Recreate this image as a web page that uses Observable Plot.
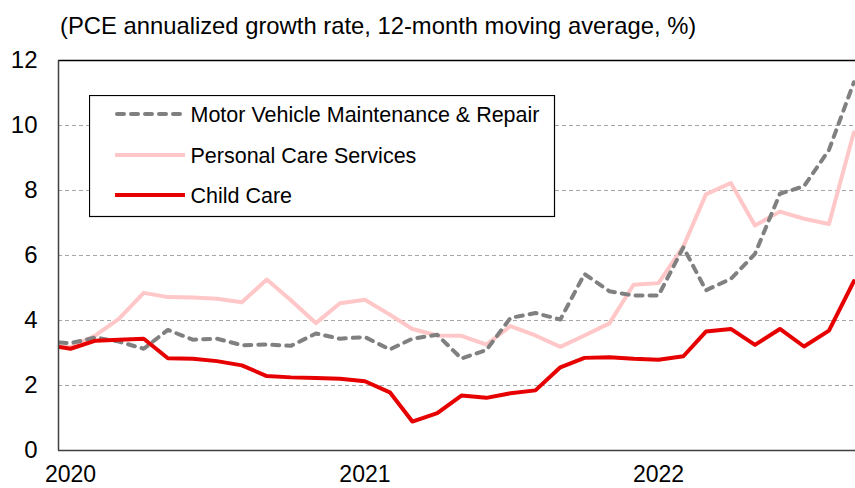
<!DOCTYPE html>
<html><head><meta charset="utf-8">
<script src="https://cdn.jsdelivr.net/npm/d3@7"></script>
<script src="https://cdn.jsdelivr.net/npm/@observablehq/plot@0.6"></script>
<style>
body{margin:0;background:#fff;font-family:"Liberation Sans",Arial,sans-serif;}
#wrap{position:relative;width:855px;height:488px;overflow:hidden;background:#fff;}
#title{position:absolute;left:60px;top:14px;font-size:23.8px;line-height:1;color:#000;white-space:nowrap;}
#chart{position:absolute;left:0;top:40px;}
#legend{position:absolute;left:89px;top:95px;}
</style></head><body>
<div id="wrap">
<div id="title">(PCE annualized growth rate, 12-month moving average, %)</div>
<div id="chart"></div>
<div id="legend"></div>
</div>
<script>
const months = ["2019-12",
 "2020-01","2020-02","2020-03","2020-04","2020-05","2020-06","2020-07","2020-08","2020-09","2020-10","2020-11","2020-12",
 "2021-01","2021-02","2021-03","2021-04","2021-05","2021-06","2021-07","2021-08","2021-09","2021-10","2021-11","2021-12",
 "2022-01","2022-02","2022-03","2022-04","2022-05","2022-06","2022-07","2022-08","2022-09"];
const motorVehicle = [3.36,
 3.30,3.48,3.35,3.13,3.71,3.41,3.44,3.24,3.26,3.22,3.60,3.44,
 3.49,3.11,3.44,3.56,2.83,3.09,4.08,4.23,4.03,5.43,4.90,4.77,
 4.77,6.25,4.93,5.28,6.05,7.90,8.13,9.25,11.33];
const personalCare = [3.22,
 3.18,3.54,4.05,4.85,4.72,4.71,4.67,4.56,5.26,4.62,3.92,4.53,
 4.64,4.18,3.74,3.54,3.53,3.26,3.83,3.54,3.19,3.54,3.91,5.10,
 5.15,6.28,7.88,8.23,6.92,7.35,7.13,6.97,9.79];
const childCare = [3.25,
 3.13,3.38,3.41,3.44,2.84,2.82,2.75,2.62,2.29,2.25,2.23,2.21,
 2.13,1.79,0.89,1.15,1.69,1.62,1.76,1.85,2.56,2.85,2.87,2.82,
 2.79,2.90,3.66,3.74,3.25,3.74,3.20,3.69,5.21];
const seriesNames = ["Motor Vehicle Maintenance & Repair","Personal Care Services","Child Care"];
const seriesColors = ["#808080","#FFC7C7","#E60000"];
const yTicks = [0,2,4,6,8,10,12];
const yearTicks = ["2020","2021","2022"];
const xDomain = ["2019-12-17","2022-09-03"];

const parseM = d3.utcParse("%Y-%m");
const parseD = d3.utcParse("%Y-%m-%d");
const toRows = vals => months.map((m,i)=>({date:parseM(m), value:vals[i]}));
const xd = xDomain.map(parseD);

const chart = Plot.plot({
  width:855, height:448, marginLeft:58, marginRight:0, marginTop:20, marginBottom:38,
  style:{fontFamily:"'Liberation Sans', Arial, sans-serif", fontSize:"24px", color:"#000", background:"#fff", overflow:"visible"},
  x:{type:"utc", domain:xd},
  y:{domain:[0,12]},
  marks:[
    Plot.ruleY(yTicks.filter(v=>v>0 && v<12), {stroke:"#A6A6A6", strokeWidth:1, strokeDasharray:"4,3"}),
    Plot.line(toRows(personalCare), {x:"date", y:"value", stroke:seriesColors[1], strokeWidth:4, clip:true}),
    Plot.line(toRows(motorVehicle), {x:"date", y:"value", stroke:seriesColors[0], strokeWidth:4, strokeDasharray:"7,7", strokeLinecap:"round", clip:true}),
    Plot.line(toRows(childCare), {x:"date", y:"value", stroke:seriesColors[2], strokeWidth:4, clip:true}),
    Plot.ruleY([yTicks[yTicks.length-1]], {stroke:"#000", strokeWidth:1.5}),
    Plot.ruleY([yTicks[0]], {stroke:"#404040", strokeWidth:1.5}),
    Plot.ruleX([xd[0]], {stroke:"#404040", strokeWidth:1.5}),
    Plot.axisY({ticks:yTicks, tickSize:0, tickPadding:21, label:null, tickFormat:d=>String(d)}),
    Plot.axisX({ticks:yearTicks.map(y=>parseM(y+"-01")), tickSize:0, tickPadding:15, fontSize:23, label:null, tickFormat:d3.utcFormat("%Y")})
  ]
});
document.getElementById("chart").appendChild(chart);

// legend
const lg = d3.select("#legend").append("svg").attr("width",467).attr("height",123)
  .style("font-family","'Liberation Sans', Arial, sans-serif");
lg.append("rect").attr("x",0.5).attr("y",0.5).attr("width",465).attr("height",121)
  .attr("fill","#fff").attr("stroke","#000").attr("stroke-width",1.2);
const rowY = [19,60,100];
seriesNames.forEach((name,i)=>{
  const g = lg.append("g").attr("transform",`translate(0,${rowY[i]})`);
  const ln = g.append("line").attr("x1",i===0?28:26).attr("x2",i===0?94:96).attr("y1",0).attr("y2",0)
    .attr("stroke",seriesColors[i]).attr("stroke-width",4);
  if(i===0) ln.attr("stroke-dasharray","7,7").attr("stroke-linecap","round");
  g.append("text").attr("x",101.5).attr("y",0).attr("dy","0.35em").attr("font-size",21.5).text(name);
});
</script>
</body></html>
